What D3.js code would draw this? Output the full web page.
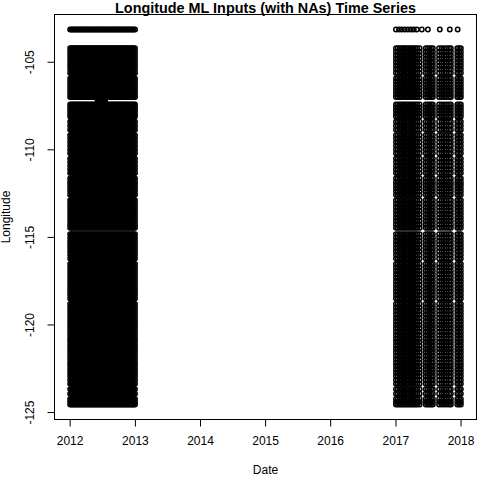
<!DOCTYPE html>
<html>
<head>
<meta charset="utf-8">
<script src="https://cdn.jsdelivr.net/npm/d3@7"></script>
<style>
  html, body { margin: 0; padding: 0; background: #fff; }
  svg { display: block; }
  text { font-family: "Liberation Sans", Arial, Helvetica, sans-serif; fill: #000; }
</style>
</head>
<body>
<svg id="chart" width="480" height="480"></svg>
<script>
// ---- data ----
const stationLon = [
  -104.20, -104.40, -104.60, -104.80, -105.00, -105.20, -105.40, -105.61,
  -105.92, -106.10, -106.28, -106.46, -106.64, -106.82, -106.99,
  -107.41, -107.58, -107.75, -107.92, -108.09,
  -108.40, -108.62, -108.85,
  -109.16, -109.36, -109.56, -109.77, -109.98, -110.19,
  -110.50, -110.70, -110.91, -111.12, -111.33,
  -111.64, -111.83, -112.01, -112.20, -112.38, -112.57,
  -112.88, -113.08, -113.28, -113.48, -113.67, -113.87, -114.06, -114.26, -114.45,
  -114.81, -115.01, -115.20, -115.40, -115.60, -115.80, -116.01, -116.21,
  -116.52, -116.71, -116.91, -117.10, -117.30, -117.50, -117.70, -117.90, -118.09, -118.29, -118.49,
  -118.80, -119.00, -119.20, -119.40, -119.60, -119.80, -120.00, -120.19, -120.39, -120.58, -120.78,
  -120.97, -121.17, -121.37, -121.56, -121.76, -121.95, -122.15, -122.34, -122.54, -122.73, -122.93,
  -123.14, -123.35, -123.66, -123.92, -124.23, -124.39, -124.54
];
const dates2012 = [
  "2012-01-01","2012-01-08","2012-01-15","2012-01-22","2012-01-29",
  "2012-02-05","2012-02-12","2012-02-19","2012-02-26",
  "2012-03-04","2012-03-11","2012-03-18","2012-03-25",
  "2012-04-01","2012-04-08","2012-04-15","2012-04-22","2012-04-29",
  "2012-05-06","2012-05-13","2012-05-20","2012-05-27",
  "2012-06-03","2012-06-10","2012-06-17","2012-06-24",
  "2012-07-01","2012-07-08","2012-07-15","2012-07-22","2012-07-29",
  "2012-08-05","2012-08-12","2012-08-19","2012-08-26",
  "2012-09-02","2012-09-09","2012-09-16","2012-09-23","2012-09-30",
  "2012-10-07","2012-10-14","2012-10-21","2012-10-28",
  "2012-11-04","2012-11-11","2012-11-18","2012-11-25",
  "2012-12-02","2012-12-09","2012-12-16","2012-12-23","2012-12-30"
];
const dates2017 = [
  "2017-01-01","2017-01-11","2017-01-21","2017-01-31","2017-02-10","2017-02-20",
  "2017-03-02","2017-03-12","2017-03-22","2017-04-01","2017-04-11","2017-04-21",
  "2017-05-01","2017-05-14",
  "2017-06-17","2017-06-27","2017-07-07","2017-07-17","2017-07-27",
  "2017-08-31","2017-09-14","2017-09-28","2017-10-12","2017-10-26","2017-11-05",
  "2017-12-11","2017-12-21","2017-12-31"
];
const topRowLon = -103.13;
const topRowDates2017 = [
  "2017-01-01","2017-01-18","2017-02-03","2017-02-20","2017-03-09","2017-03-26",
  "2017-04-11","2017-04-28","2017-05-26","2017-06-29","2017-09-04","2017-10-30","2017-12-13"
];
const partialLon2012 = [-107.13, -107.27];
const partialDates2012 = [
  "2012-06-03","2012-06-10","2012-06-17","2012-06-24","2012-07-01","2012-07-08","2012-07-15"
];
const xTickYears = [2012, 2013, 2014, 2015, 2016, 2017, 2018];
const yTicks = [-125, -120, -115, -110, -105];

// ---- build the point table ----
const parse = d3.timeParse("%Y-%m-%d");
const points = [];
function addGrid(lons, dates) {
  lons.forEach(lon => dates.forEach(d => points.push({ date: parse(d), lon })));
}
addGrid(stationLon, dates2012);
addGrid(stationLon, dates2017);
addGrid([topRowLon], dates2012);
addGrid([topRowLon], topRowDates2017);
addGrid(partialLon2012, partialDates2012);

// ---- layout ----
const plotL = 54.5, plotR = 476.5, plotT = 14.5, plotB = 419.5;
const svg = d3.select("#chart");

const xExt = d3.extent(points, d => +d.date);
const xPad = (xExt[1] - xExt[0]) * 0.04;
const x = d3.scaleTime()
  .domain([new Date(xExt[0] - xPad), new Date(xExt[1] + xPad)])
  .range([plotL, plotR]);

const yExt = d3.extent(points, d => d.lon);
const yPad = (yExt[1] - yExt[0]) * 0.04;
const y = d3.scaleLinear()
  .domain([yExt[0] - yPad, yExt[1] + yPad])
  .range([plotB, plotT]);

// points
svg.append("g")
  .selectAll("circle")
  .data(points)
  .join("circle")
  .attr("cx", d => x(d.date))
  .attr("cy", d => y(d.lon))
  .attr("r", 2.2)
  .attr("fill", "none")
  .attr("stroke", "#000")
  .attr("stroke-width", 1.5);

// box
svg.append("rect")
  .attr("x", plotL).attr("y", plotT)
  .attr("width", plotR - plotL).attr("height", plotB - plotT)
  .attr("fill", "none").attr("stroke", "#000").attr("stroke-width", 1);

// x axis
const xTicks = xTickYears.map(yr => new Date(yr, 0, 1));
const xAxis = svg.append("g");
xAxis.append("line")
  .attr("x1", x(xTicks[0])).attr("x2", x(xTicks[xTicks.length - 1]))
  .attr("y1", plotB).attr("y2", plotB).attr("stroke", "#000");
xAxis.selectAll("line.tick").data(xTicks).join("line")
  .attr("class", "tick")
  .attr("x1", d => x(d)).attr("x2", d => x(d))
  .attr("y1", plotB).attr("y2", plotB + 7)
  .attr("stroke", "#000");
xAxis.selectAll("text").data(xTicks).join("text")
  .attr("x", d => x(d)).attr("y", 445)
  .attr("text-anchor", "middle")
  .attr("font-size", 12)
  .text(d => d3.timeFormat("%Y")(d));

// y axis
const yAxis = svg.append("g");
yAxis.append("line")
  .attr("x1", plotL).attr("x2", plotL)
  .attr("y1", y(yTicks[0])).attr("y2", y(yTicks[yTicks.length - 1]))
  .attr("stroke", "#000");
yAxis.selectAll("line.tick").data(yTicks).join("line")
  .attr("class", "tick")
  .attr("x1", plotL - 7).attr("x2", plotL)
  .attr("y1", d => y(d)).attr("y2", d => y(d))
  .attr("stroke", "#000");
yAxis.selectAll("text").data(yTicks).join("text")
  .attr("transform", d => `translate(33.5,${y(d)}) rotate(-90)`)
  .attr("text-anchor", "middle")
  .attr("font-size", 12)
  .text(d => String(d));

// titles
svg.append("text")
  .attr("x", (plotL + plotR) / 2).attr("y", 12.5)
  .attr("text-anchor", "middle")
  .attr("font-size", 14.4).attr("font-weight", "bold")
  .text("Longitude ML Inputs (with NAs) Time Series");
svg.append("text")
  .attr("x", (plotL + plotR) / 2).attr("y", 474)
  .attr("text-anchor", "middle")
  .attr("font-size", 12)
  .text("Date");
svg.append("text")
  .attr("transform", `translate(10,${(plotT + plotB) / 2}) rotate(-90)`)
  .attr("text-anchor", "middle")
  .attr("font-size", 12)
  .text("Longitude");
</script>
</body>
</html>
